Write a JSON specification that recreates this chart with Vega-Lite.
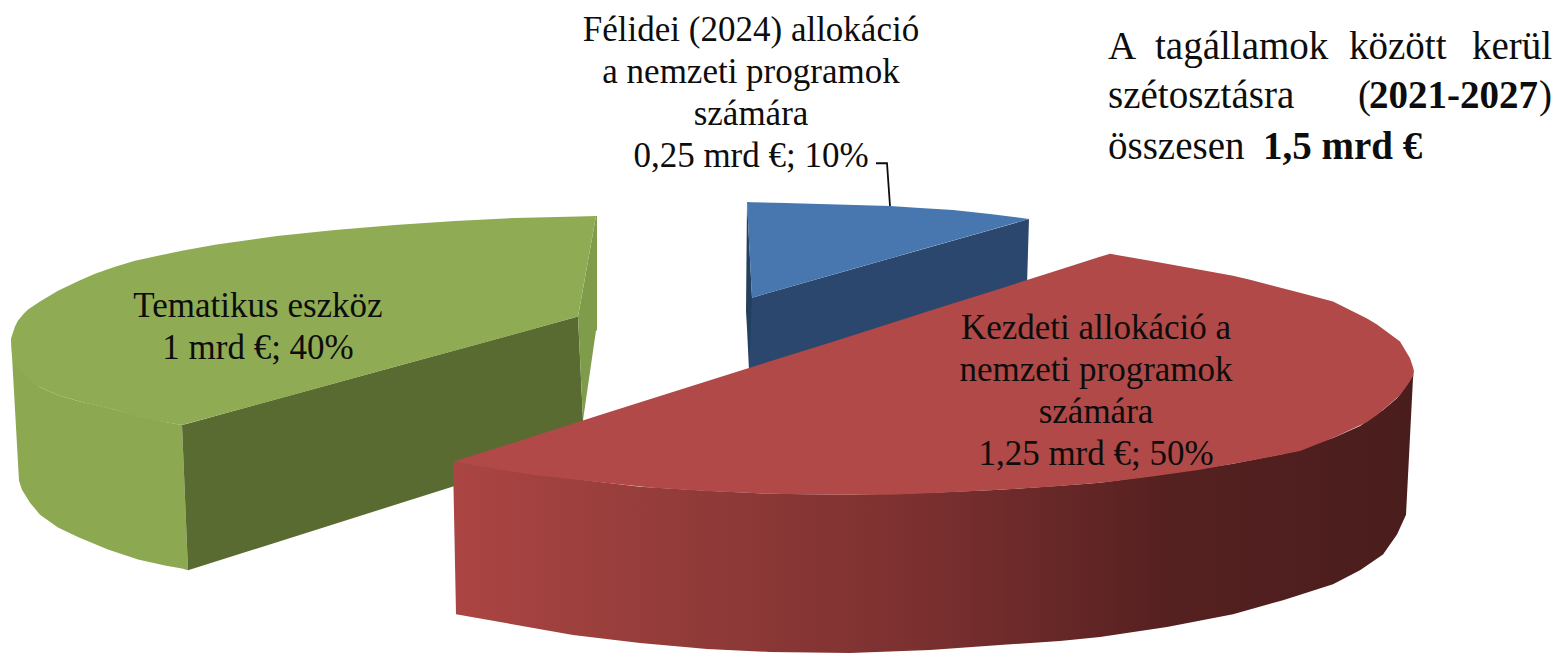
{
"$schema":"https://vega.github.io/schema/vega-lite/v6.json",
"width":1556,"height":653,"padding":0,
"autosize":{"type":"fit","contains":"padding"},
"background":"white",
"config":{"view":{"stroke":null},"axis":{"disable":true}},
"datasets":{
"greenWall":[{"x":11,"y":340,"y2":340},{"x":19,"y":360,"y2":483},{"x":22,"y":370,"y2":492},{"x":30,"y":380,"y2":505},{"x":40,"y":389,"y2":517},{"x":58,"y":397,"y2":530},{"x":79,"y":403,"y2":540},{"x":108,"y":410,"y2":552},{"x":138,"y":418,"y2":562},{"x":165,"y":424,"y2":568},{"x":182,"y":427,"y2":571},{"x":188,"y":573,"y2":573}],
"greenCut":[{"x":182,"y":427,"y2":427},{"x":188,"y":425.4,"y2":573},{"x":578,"y":318,"y2":449},{"x":583,"y":422,"y2":448}],
"greenEdge":[{"x":578,"y":318,"y2":318},{"x":583,"y":290,"y2":422},{"x":596,"y":217,"y2":332},{"x":597,"y":217,"y2":332}],
"greenTop":[{"x":11,"y":340,"y2":340},{"x":12,"y":337,"y2":357},{"x":15,"y":328,"y2":364},{"x":18,"y":322,"y2":369},{"x":24,"y":315,"y2":377},{"x":28,"y":311,"y2":380},{"x":40,"y":303,"y2":389},{"x":58,"y":292,"y2":397},{"x":79,"y":282,"y2":403},{"x":95,"y":275,"y2":407},{"x":115,"y":268,"y2":412},{"x":135,"y":262,"y2":418},{"x":158,"y":257,"y2":423},{"x":182,"y":252,"y2":427},{"x":215,"y":246,"y2":418},{"x":277,"y":237,"y2":401},{"x":335,"y":231,"y2":385},{"x":395,"y":226,"y2":368.5},{"x":455,"y":222,"y2":352},{"x":514,"y":219,"y2":336},{"x":578,"y":217.5,"y2":318},{"x":596,"y":217,"y2":217}],
"blueEdge":[{"x":746,"y":313,"y2":313},{"x":747,"y":203,"y2":330},{"x":749,"y":241,"y2":372},{"x":752,"y":299,"y2":372}],
"blueCut":[{"x":749,"y":372,"y2":372},{"x":752,"y":299,"y2":372},{"x":1027,"y":220.6,"y2":286},{"x":1029,"y":220,"y2":220}],
"blueTop":[{"x":747,"y":203,"y2":203},{"x":752,"y":203.2,"y2":299},{"x":785,"y":204,"y2":289.6},{"x":820,"y":205,"y2":279.6},{"x":855,"y":206,"y2":269.6},{"x":890,"y":207,"y2":259.6},{"x":920,"y":209,"y2":251},{"x":953,"y":211,"y2":241.7},{"x":990,"y":215,"y2":231},{"x":1029,"y":220,"y2":220}],
"redWall":[{"x":453,"y":464,"y2":464},{"x":456,"y":465,"y2":617},{"x":573,"y":481,"y2":638},{"x":640,"y":489,"y2":646},{"x":707,"y":493,"y2":652},{"x":770,"y":496,"y2":655},{"x":850,"y":497,"y2":656},{"x":930,"y":495,"y2":653},{"x":1000,"y":492,"y2":648},{"x":1060,"y":488,"y2":644},{"x":1100,"y":485,"y2":640},{"x":1167,"y":476,"y2":630},{"x":1233,"y":466,"y2":617},{"x":1283,"y":456,"y2":603},{"x":1333,"y":440,"y2":587},{"x":1360,"y":428,"y2":573},{"x":1383,"y":412,"y2":557},{"x":1397,"y":400,"y2":537},{"x":1406,"y":388,"y2":517},{"x":1413,"y":377,"y2":380},{"x":1414,"y":373,"y2":373}],
"redTop":[{"x":453,"y":464,"y2":464},{"x":500,"y":449,"y2":472},{"x":540,"y":436.3,"y2":478},{"x":600,"y":417,"y2":484.5},{"x":653,"y":400,"y2":490},{"x":710,"y":382,"y2":493.5},{"x":767,"y":364,"y2":496},{"x":840,"y":341,"y2":497},{"x":890,"y":325,"y2":497},{"x":940,"y":309,"y2":495},{"x":1000,"y":290,"y2":492},{"x":1050,"y":274,"y2":489},{"x":1100,"y":258,"y2":485},{"x":1110,"y":255,"y2":484},{"x":1150,"y":262,"y2":479},{"x":1200,"y":271,"y2":472},{"x":1233,"y":277,"y2":466},{"x":1250,"y":281,"y2":463},{"x":1300,"y":294,"y2":453},{"x":1333,"y":303,"y2":440},{"x":1367,"y":320,"y2":424},{"x":1377,"y":326,"y2":417},{"x":1400,"y":343,"y2":397},{"x":1410,"y":360,"y2":383},{"x":1413,"y":369,"y2":377},{"x":1414,"y":373,"y2":373}],
"leader":[{"x":876,"y":164},{"x":887,"y":164},{"x":890,"y":207}],
"sliceLabels":[
{"slice":"Félidei (2024) allokáció a nemzeti programok számára","amount":0.25,"share":10,"label":"Félidei (2024) allokáció\na nemzeti programok\nszámára\n0,25 mrd €; 10%","x":751,"y":41},
{"slice":"Tematikus eszköz","amount":1,"share":40,"label":"Tematikus eszköz\n1 mrd €; 40%","x":258,"y":318},
{"slice":"Kezdeti allokáció a nemzeti programok számára","amount":1.25,"share":50,"label":"Kezdeti allokáció a\nnemzeti programok\nszámára\n1,25 mrd €; 50%","x":1096,"y":341}],
"noteRegular":[{"t":"A","x":1108,"y":59},{"t":"tagállamok","x":1155,"y":59},{"t":"között","x":1349,"y":59},{"t":"kerül","x":1472,"y":59},{"t":"szétosztásra","x":1108,"y":109},{"t":"(","x":1358,"y":109},{"t":")","x":1539,"y":109},{"t":"összesen","x":1108,"y":160}],
"noteBold":[{"t":"2021-2027","x":1369,"y":109},{"t":"1,5 mrd €","x":1263,"y":160}]
},
"encoding":{
"x":{"field":"x","type":"quantitative","axis":null,"scale":{"domain":[0,1556],"nice":false,"zero":false}},
"y":{"field":"y","type":"quantitative","axis":null,"scale":{"domain":[653,0],"nice":false,"zero":false}}
},
"layer":[
{"data":{"name":"greenWall"},"mark":{"type":"area","color":"#8CA952"},"encoding":{"y2":{"field":"y2"}}},
{"data":{"name":"greenCut"},"mark":{"type":"area","color":"#5A6B32"},"encoding":{"y2":{"field":"y2"}}},
{"data":{"name":"greenEdge"},"mark":{"type":"area","color":"#7F9C4B"},"encoding":{"y2":{"field":"y2"}}},
{"data":{"name":"greenTop"},"mark":{"type":"area","color":"#8FAC55"},"encoding":{"y2":{"field":"y2"}}},
{"data":{"name":"blueEdge"},"mark":{"type":"area","color":"#22405F"},"encoding":{"y2":{"field":"y2"}}},
{"data":{"name":"blueCut"},"mark":{"type":"area","color":"#2C476D"},"encoding":{"y2":{"field":"y2"}}},
{"data":{"name":"blueTop"},"mark":{"type":"area","color":"#4876AE"},"encoding":{"y2":{"field":"y2"}}},
{"data":{"name":"redWall"},"mark":{"type":"area","color":{"gradient":"linear","x1":0,"x2":1,"y1":0,"y2":0,"stops":[{"offset":0,"color":"#AB4543"},{"offset":0.25,"color":"#913B39"},{"offset":0.5,"color":"#7A2F2F"},{"offset":0.75,"color":"#552020"},{"offset":1,"color":"#4A1D1D"}]}},"encoding":{"y2":{"field":"y2"}}},
{"data":{"name":"redTop"},"mark":{"type":"area","color":"#B04947"},"encoding":{"y2":{"field":"y2"}}},
{"data":{"name":"leader"},"mark":{"type":"line","color":"#0D0D0D","strokeWidth":1.8}},
{"data":{"name":"sliceLabels"},"mark":{"type":"text","font":"Liberation Serif","fontSize":35,"lineBreak":"\n","lineHeight":42,"align":"center","baseline":"alphabetic","color":"#0D0D0D"},"encoding":{"text":{"field":"label"}}},
{"data":{"name":"noteRegular"},"mark":{"type":"text","font":"Liberation Serif","fontSize":39,"align":"left","baseline":"alphabetic","color":"#0D0D0D"},"encoding":{"text":{"field":"t"}}},
{"data":{"name":"noteBold"},"mark":{"type":"text","font":"Liberation Serif","fontWeight":"bold","fontSize":39,"align":"left","baseline":"alphabetic","color":"#0D0D0D"},"encoding":{"text":{"field":"t"}}}
]
}
